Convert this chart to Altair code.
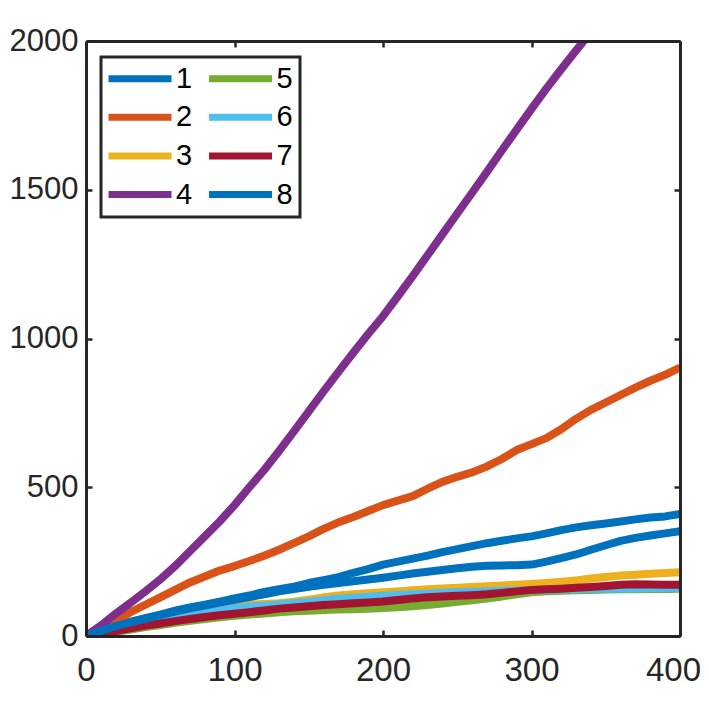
import altair as alt
import pandas as pd

# ---- data ----
series_names = ["1", "2", "3", "4", "5", "6", "7", "8"]
colors = ["#0072BD", "#D95319", "#EDB120", "#7E2F8E", "#77AC30", "#4DBEEE", "#A2142F", "#0072BD"]

x_vals = [0, 10, 20, 30, 40, 50, 60, 70, 80, 90, 100, 110, 120, 130, 140, 150, 160, 170, 180, 190,
          200, 210, 220, 230, 240, 250, 260, 270, 280, 290, 300, 310, 320, 330, 340, 350, 360, 370,
          380, 390, 400]

s1 = [0, 18, 35, 48, 60, 72, 85, 96, 105, 115, 126, 136, 148, 157, 166, 178, 188, 198, 212, 225,
      240, 250, 260, 270, 282, 292, 302, 312, 320, 328, 335, 345, 356, 365, 372, 378, 385, 392,
      398, 402, 410]
s2 = [0, 28, 52, 80, 105, 130, 155, 180, 200, 220, 235, 252, 270, 290, 312, 335, 360, 382, 400, 420,
      440, 455, 470, 495, 518, 535, 550, 570, 595, 625, 645, 665, 695, 730, 760, 785, 810, 835,
      858, 878, 902]
s3 = [0, 12, 24, 35, 45, 55, 66, 76, 84, 92, 100, 105, 108, 110, 115, 122, 130, 136, 140, 144,
      147, 150, 154, 157, 160, 162, 165, 167, 170, 172, 175, 178, 182, 187, 193, 198, 203, 206,
      209, 212, 214]
s4 = [0, 35, 75, 112, 150, 190, 235, 285, 335, 385, 440, 500, 558, 622, 688, 755, 822, 888, 952, 1015,
      1075, 1142, 1210, 1280, 1350, 1420, 1490, 1560, 1632, 1702, 1772, 1840, 1905, 1968, 2030]
s5 = [0, 7, 14, 22, 30, 37, 44, 51, 57, 63, 68, 72, 76, 80, 83, 85, 87, 89, 90, 92,
      94, 97, 100, 104, 109, 115, 120, 126, 133, 140, 147, 150, 152, 154, 155, 156, 157, 157,
      158, 158, 159]
s6 = [0, 10, 21, 31, 41, 50, 60, 70, 78, 86, 93, 98, 102, 106, 110, 115, 120, 125, 129, 132,
      135, 138, 140, 142, 145, 147, 149, 150, 152, 153, 154, 155, 156, 157, 158, 159, 160, 160,
      161, 161, 162]
s7 = [0, 8, 17, 26, 35, 42, 50, 57, 64, 70, 75, 80, 86, 92, 96, 100, 104, 107, 110, 113,
      116, 121, 126, 130, 133, 135, 137, 140, 145, 150, 155, 157, 159, 162, 165, 168, 172, 174,
      173, 172, 172]
s8 = [0, 17, 33, 46, 58, 70, 82, 93, 102, 112, 122, 131, 140, 150, 158, 165, 172, 178, 184, 190,
      196, 203, 210, 216, 222, 228, 233, 236, 237, 238, 240, 250, 262, 274, 290, 305, 320, 330,
      338, 345, 352]

x_ticks = [0, 100, 200, 300, 400]
y_ticks = [0, 500, 1000, 1500, 2000]

all_series = [s1, s2, s3, s4, s5, s6, s7, s8]
rows = []
for k, (name, ys) in enumerate(zip(series_names, all_series)):
    for xv, yv in zip(x_vals, ys):
        rows.append({"series": name, "order": k, "x": xv, "y": yv})
df = pd.DataFrame(rows)

W, H = 594, 595
AX = "#262626"
FONT = "Liberation Sans"

sx = alt.Scale(domain=[0, 400], nice=False, zero=False)
sy = alt.Scale(domain=[0, 2000], nice=False, zero=False)

def ax(orient, values, labels, domain, ticks, offset=0, pad=0, fs=33, loff=0):
    kw = dict(orient=orient, values=values, labels=labels, domain=domain, ticks=ticks,
              title=None, grid=False, zindex=1, domainColor=AX, domainWidth=3,
              tickColor=AX, tickWidth=2.5, tickSize=6 if ticks else 0, format="d",
              labelFlush=False, labelOverlap=False,
              labelFont=FONT, labelFontSize=fs, labelColor=AX, labelPadding=pad)
    if offset:
        kw["offset"] = offset
    if loff:
        kw["labelOffset"] = loff
    return alt.Axis(**kw)

lines = alt.Chart(df).mark_line(strokeWidth=8, clip=True, strokeJoin="round").encode(
    x=alt.X("x:Q", scale=sx, axis=ax("bottom", x_ticks[:-1], True, True, False, pad=18)),
    y=alt.Y("y:Q", scale=sy, axis=ax("left", y_ticks, True, True, False, pad=8, fs=31)),
    color=alt.Color(
        "series:N",
        scale=alt.Scale(domain=series_names, range=colors),
        legend=alt.Legend(
            orient="none", legendX=15, legendY=16, columns=2, title=None,
            symbolType="M-1.33,0L4.67,0", symbolSize=441, symbolStrokeWidth=7,
            labelFont=FONT, labelFontSize=29, labelColor="black", labelOffset=39,
            columnPadding=1.5, rowPadding=8.7, padding=7,
            strokeColor=AX, fillColor="white",
        ),
    ),
)

ticks_a = alt.Chart(df).mark_point(opacity=0).encode(
    x=alt.X("x:Q", scale=sx, axis=ax("top", x_ticks, False, False, True, offset=-H)),
    y=alt.Y("y:Q", scale=sy, axis=ax("right", y_ticks, False, False, True, offset=-W)),
)
ticks_b = alt.Chart(df).mark_point(opacity=0).encode(
    x=alt.X("x:Q", scale=sx, axis=ax("bottom", x_ticks, False, True, True, offset=-H)),
    y=alt.Y("y:Q", scale=sy, axis=ax("left", y_ticks, False, True, True, offset=-W)),
)
last_label = alt.Chart(df).mark_point(opacity=0).encode(
    x=alt.X("x:Q", scale=sx, axis=ax("bottom", x_ticks[-1:], True, False, False, pad=18, loff=-7)),
    y=alt.Y("y:Q", scale=sy, axis=None),
)

chart = alt.layer(lines, ticks_a, ticks_b, last_label).resolve_axis(
    x="independent", y="independent"
).properties(
    width=W, height=H,
    autosize=alt.AutoSizeParams(type="none"),
    padding={"left": 78, "top": 33, "right": 21, "bottom": 60},
    background="white",
).configure_view(stroke=None).configure_legend(strokeWidth=3)

chart.save("out.html", embed_options={"renderer": "svg", "actions": False})
